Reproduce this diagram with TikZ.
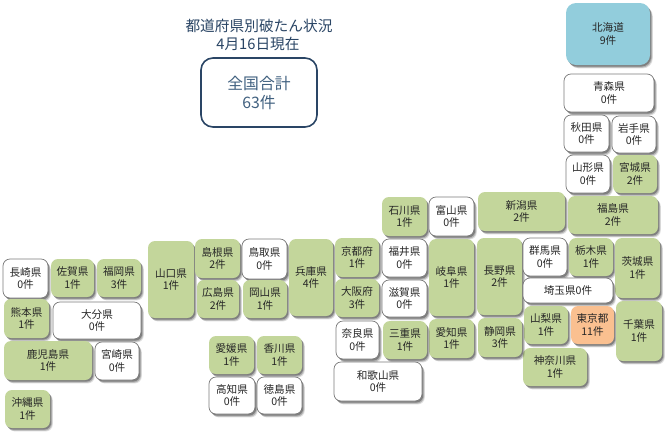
\documentclass[tikz,border=0pt]{standalone}
\usepackage{fontspec}
\setmainfont{Noto Sans CJK JP}
\definecolor{prefgreen}{HTML}{C3D69B}
\definecolor{prefblue}{HTML}{92CDDC}
\definecolor{preforange}{HTML}{FAC090}
\definecolor{prefedge}{HTML}{7A7A7A}
\definecolor{titleblue}{HTML}{2A4565}
\definecolor{totaltext}{HTML}{40607F}
\tikzset{
  softshadow/.style={
    preaction={fill=black,opacity=.13,transform canvas={shift={(2.8pt,-3.4pt)}}},
    preaction={fill=black,opacity=.20,transform canvas={shift={(2pt,-2.6pt)}}},
    preaction={fill=black,opacity=.28,transform canvas={shift={(1.2pt,-1.6pt)}}}},
  prefbase/.style={rounded corners=7pt,inner sep=0pt,align=center,text=black!85,
    font=\fontsize{10.6}{12.6}\selectfont,softshadow},
  g/.style={prefbase,fill=prefgreen},
  w/.style={prefbase,fill=white,draw=prefedge,line width=.7pt},
  b/.style={prefbase,fill=prefblue,rounded corners=10pt},
  o/.style={prefbase,fill=preforange},
  titletext/.style={inner sep=0pt,text=titleblue,font=\fontsize{14.7}{18}\selectfont},
  totalbox/.style={rounded corners=12pt,draw=titleblue,line width=1.6pt,fill=white,inner sep=0pt,
    align=center,text=totaltext,font=\fontsize{15.8}{19}\selectfont}
}
\newcommand{\pref}[8]{%
  \pgfmathsetmacro{\prefcx}{(#3+#5)/2}\pgfmathsetmacro{\prefcy}{(#4+#6)/2}%
  \pgfmathsetmacro{\prefw}{#5-#3}\pgfmathsetmacro{\prefh}{#6-#4}%
  \node[#2,minimum width=\prefw pt,minimum height=\prefh pt] (#1) at (\prefcx,\prefcy) {#7\\#8};}
\begin{document}
\begin{tikzpicture}[x=1pt,y=-1pt]
\useasboundingbox[fill=white] (0,0) rectangle (670,437);
\node[titletext] (title1) at (259,26) {都道府県別破たん状況};
\node[titletext] (title2) at (258,44) {4月16日現在};
\node[totalbox,minimum width=116pt,minimum height=69pt] (total) at (259,92.5) {全国合計\\63件};
\pref{hokkaido}{b}{566}{3}{650}{65}{北海道}{9件}
\pref{aomori}{w}{564}{74}{654}{112}{青森県}{0件}
\pref{akita}{w}{564}{115}{609}{152}{秋田県}{0件}
\pref{iwate}{w}{612}{116}{656}{153}{岩手県}{0件}
\pref{yamagata}{w}{566}{155}{610}{193}{山形県}{0件}
\pref{miyagi}{g}{613}{155}{657}{193}{宮城県}{2件}
\pref{ishikawa}{g}{382}{197}{427}{236}{石川県}{1件}
\pref{toyama}{w}{429}{197}{474}{236}{富山県}{0件}
\pref{niigata}{g}{478}{192}{565}{231}{新潟県}{2件}
\pref{fukushima}{g}{568}{196}{658}{234}{福島県}{2件}
\pref{nagasaki}{w}{3}{259}{48}{298}{長崎県}{0件}
\pref{saga}{g}{51}{259}{94}{297}{佐賀県}{1件}
\pref{fukuoka}{g}{97}{259}{141}{297}{福岡県}{3件}
\pref{kumamoto}{g}{4}{299}{49}{338}{熊本県}{1件}
\pref{oita}{w}{53}{302}{141}{339}{大分県}{0件}
\pref{kagoshima}{g}{4}{341}{92}{380}{鹿児島県}{1件}
\pref{miyazaki}{w}{95}{342}{139}{380}{宮崎県}{0件}
\pref{okinawa}{g}{5}{390}{50}{428}{沖縄県}{1件}
\pref{yamaguchi}{g}{148}{241}{194}{318}{山口県}{1件}
\pref{shimane}{g}{195}{239}{240}{278}{島根県}{2件}
\pref{tottori}{w}{242}{239}{287}{279}{鳥取県}{0件}
\pref{hiroshima}{g}{197}{280}{239}{318}{広島県}{2件}
\pref{okayama}{g}{243}{280}{287}{318}{岡山県}{1件}
\pref{hyogo}{g}{289}{239}{333}{316}{兵庫県}{4件}
\pref{ehime}{g}{209}{336}{254}{374}{愛媛県}{1件}
\pref{kagawa}{g}{257}{336}{302}{374}{香川県}{1件}
\pref{kochi}{w}{209}{377}{255}{414}{高知県}{0件}
\pref{tokushima}{w}{257}{377}{302}{414}{徳島県}{0件}
\pref{kyoto}{g}{335}{238}{379}{277}{京都府}{1件}
\pref{osaka}{g}{335}{279}{379}{317}{大阪府}{3件}
\pref{fukui}{w}{382}{239}{427}{277}{福井県}{0件}
\pref{shiga}{w}{382}{280}{427}{317}{滋賀県}{0件}
\pref{gifu}{g}{429}{239}{474}{316}{岐阜県}{1件}
\pref{nagano}{g}{477}{238}{522}{315}{長野県}{2件}
\pref{gunma}{w}{523}{238}{567}{276}{群馬県}{0件}
\pref{tochigi}{g}{569}{238}{613}{276}{栃木県}{1件}
\pref{ibaraki}{g}{615}{238}{660}{298}{茨城県}{1件}
\node[w,minimum width=90pt,minimum height=25pt] (saitama) at (568,290.5) {埼玉県0件};
\pref{yamanashi}{g}{524}{306}{568}{344}{山梨県}{1件}
\pref{tokyo}{o}{571}{306}{614}{344}{東京都}{11件}
\pref{chiba}{g}{616}{301}{662}{361}{千葉県}{1件}
\pref{kanagawa}{g}{523}{348}{587}{386}{神奈川県}{1件}
\pref{shizuoka}{g}{478}{318}{522}{357}{静岡県}{3件}
\pref{aichi}{g}{429}{319}{474}{358}{愛知県}{1件}
\pref{mie}{g}{383}{321}{427}{359}{三重県}{1件}
\pref{nara}{w}{336}{321}{379}{359}{奈良県}{0件}
\pref{wakayama}{w}{334}{362}{422}{401}{和歌山県}{0件}
\end{tikzpicture}
\end{document}
